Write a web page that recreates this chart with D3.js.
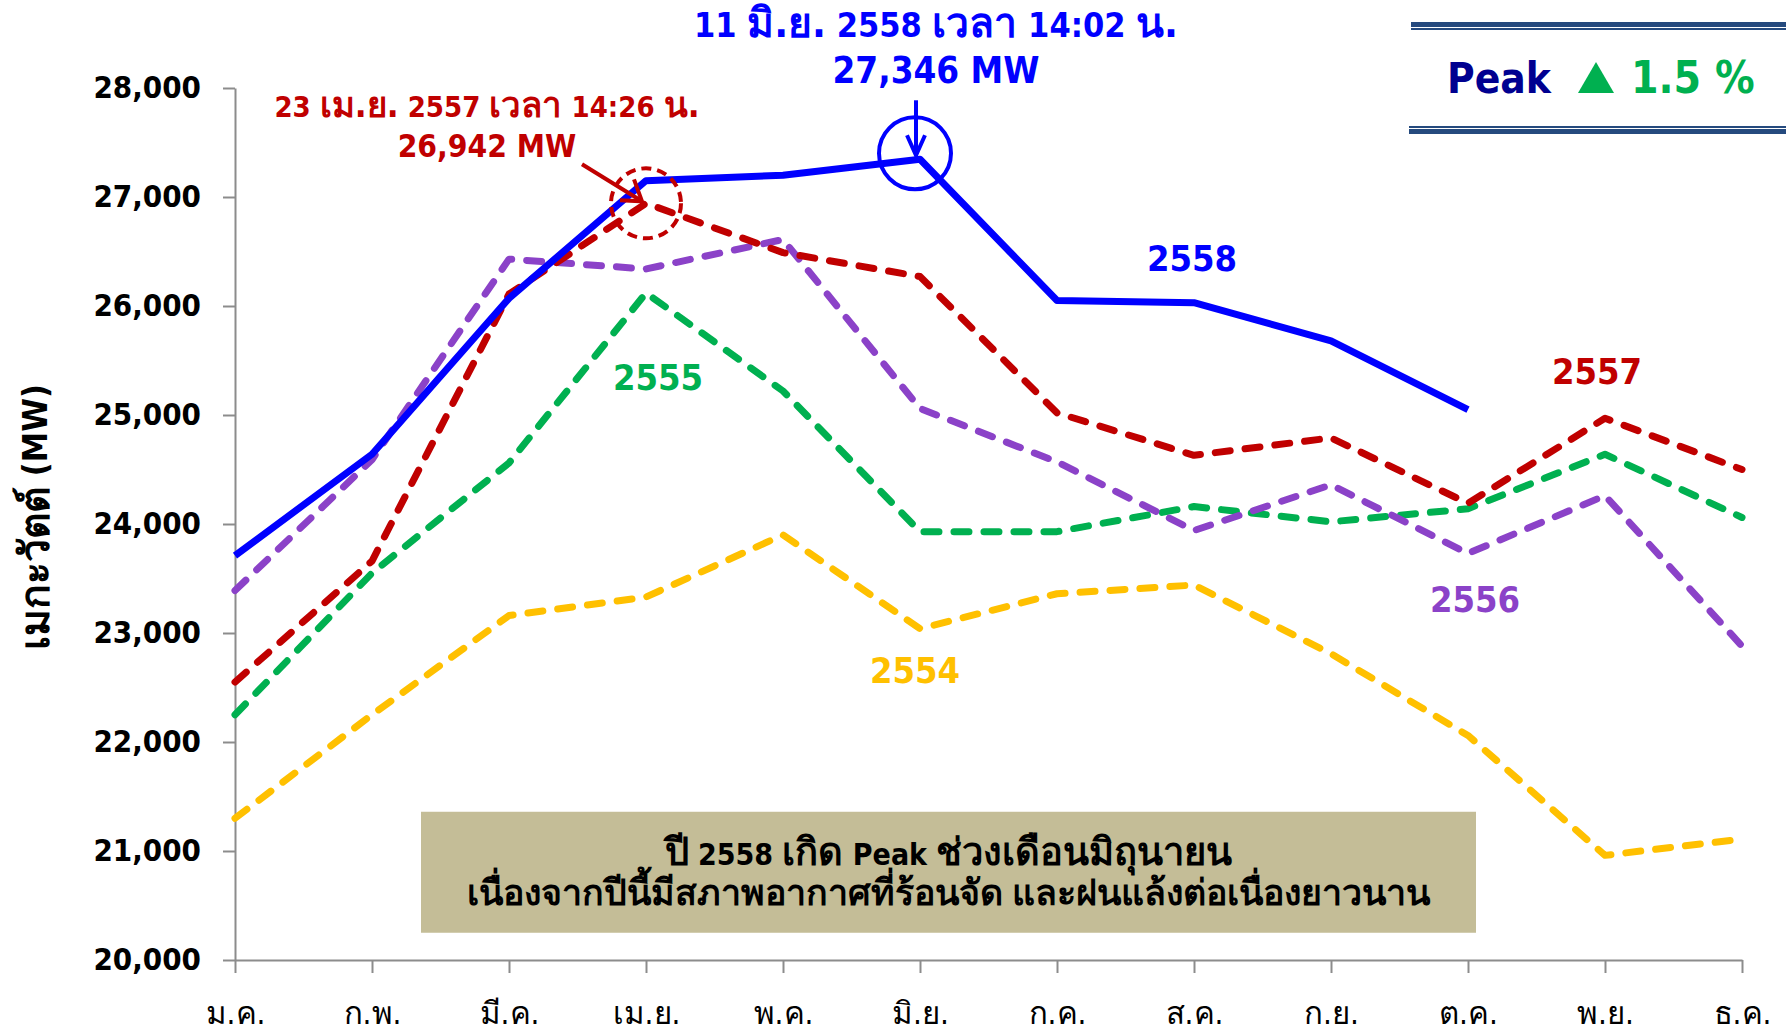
<!DOCTYPE html>
<html>
<head>
<meta charset="utf-8">
<script src="https://cdn.jsdelivr.net/npm/d3@7"></script>
<style>
  body { margin: 0; background: #fff; }
  svg { display: block; }
  text { font-family: Tahoma, "DejaVu Sans Condensed", "DejaVu Sans", "Noto Sans", sans-serif; font-stretch: condensed; }
</style>
</head>
<body>
<div id="chart"></div>
<script>
// months (Thai abbreviations)
const months = ["ม.ค.", "ก.พ.", "มี.ค.", "เม.ย.", "พ.ค.", "มิ.ย.", "ก.ค.", "ส.ค.", "ก.ย.", "ต.ค.", "พ.ย.", "ธ.ค."];

// monthly peak demand (MW)
const y2554 = [21300, 22250, 23160, 23330, 23900, 23040, 23360, 23440, 22810, 22060, 20960, 21110];
const y2555 = [22250, 23550, 24560, 26120, 25220, 23930, 23930, 24160, 24020, 24140, 24640, 24060];
const y2556 = [23390, 24590, 26430, 26340, 26610, 25060, 24570, 23940, 24360, 23730, 24260, 22880];
const y2557 = [22550, 23660, 26110, 26942, 26490, 26270, 25020, 24630, 24790, 24190, 24970, 24500];
const y2558 = [23710, 24640, 26070, 27150, 27200, 27346, 26050, 26030, 25680, 25050];

const yTicks = [20000, 21000, 22000, 23000, 24000, 25000, 26000, 27000, 28000];

const seriesNames = ["2554", "2555", "2556", "2557", "2558"];
const seriesValues = [y2554, y2555, y2556, y2557, y2558];
const seriesColors = ["#FFC000", "#00B050", "#8B42C8", "#C00000", "#0000FF"];

const W = 1786, H = 1034;

// write a string into a text element, Thai runs scaled up (the fallback Thai glyphs are small)
function mixed(sel, str, size, thaiScale) {
    const k = thaiScale || 1.2;
    const parts = str.split(/([\u0E00-\u0E7F][\u0E00-\u0E7F.]*)/).filter(s => s.length);
    parts.forEach(s => {
        const thai = /[\u0E00-\u0E7F]/.test(s);
        sel.append("tspan")
            .style("font-size", (thai ? size * k : size) + "px")
            .text(s);
    });
}

const svg = d3.select("#chart").append("svg")
    .attr("width", W)
    .attr("height", H);

// scales
const x = d3.scalePoint().domain(months).range([235, 1742]);
const y = d3.scaleLinear().domain([20000, 28000]).range([960, 88]);

// y axis
const yAxis = svg.append("g")
    .attr("transform", "translate(" + x(months[0]) + ",0)")
    .call(d3.axisLeft(y).tickValues(yTicks).tickFormat(d3.format(",")).tickSize(12).tickSizeOuter(0).tickPadding(22));
yAxis.selectAll("text")
    .style("font-size", "31px")
    .style("font-weight", "bold")
    .attr("fill", "#000");

// x axis
const xAxis = svg.append("g")
    .attr("transform", "translate(0," + y(20000) + ")")
    .call(d3.axisBottom(x).tickSize(13).tickSizeOuter(0));
xAxis.selectAll("text")
    .text("")
    .attr("fill", "#000")
    .attr("y", 57)
    .each(function(d) { mixed(d3.select(this), d, 26); });

svg.selectAll(".domain, .tick line").attr("stroke", "#8c8c8c").attr("stroke-width", 2);

// y axis title
const yTitle = svg.append("text")
    .attr("transform", "translate(35," + (y(24000) - 7) + ") rotate(-90)")
    .attr("text-anchor", "middle")
    .attr("dominant-baseline", "central")
    .style("font-weight", "bold");
mixed(yTitle, "เมกะวัตต์ (MW)", 34);

// note box
const boxX0 = x(months[1]) + 49, boxX1 = x(months[9]) + 8;
svg.append("rect")
    .attr("x", boxX0).attr("y", y(21360))
    .attr("width", boxX1 - boxX0).attr("height", y(20250) - y(21360))
    .attr("fill", "#C4BD97");
const note1 = svg.append("text")
    .attr("x", (boxX0 + boxX1) / 2).attr("y", 865)
    .attr("text-anchor", "middle")
    .style("font-weight", "bold")
    .attr("fill", "#000");
mixed(note1, "ปี 2558 เกิด Peak ช่วงเดือนมิถุนายน", 30, 1.27);
const note2 = svg.append("text")
    .attr("x", (boxX0 + boxX1) / 2).attr("y", 905)
    .attr("text-anchor", "middle")
    .style("font-weight", "bold")
    .attr("fill", "#000");
mixed(note2, "เนื่องจากปีนี้มีสภาพอากาศที่ร้อนจัด และฝนแล้งต่อเนื่องยาวนาน", 29.8);

// lines
const line = d3.line()
    .x((d, i) => x(months[i]))
    .y(d => y(d));

seriesValues.forEach((vals, k) => {
    const solid = seriesNames[k] === "2558";
    svg.append("path")
        .datum(vals)
        .attr("d", line)
        .attr("fill", "none")
        .attr("stroke", seriesColors[k])
        .attr("stroke-width", 7)
        .attr("stroke-linejoin", "round")
        .attr("stroke-linecap", solid ? "butt" : "round")
        .attr("stroke-dasharray", solid ? null : "15,15");
});

// series labels
const labelPos = [
    { name: "2554", cx: 915, cy: 670 },
    { name: "2555", cx: 658, cy: 377 },
    { name: "2556", cx: 1475, cy: 599 },
    { name: "2557", cx: 1597, cy: 371 },
    { name: "2558", cx: 1192, cy: 258 }
];
labelPos.forEach(p => {
    svg.append("text")
        .attr("x", p.cx).attr("y", p.cy)
        .attr("text-anchor", "middle")
        .attr("dominant-baseline", "central")
        .style("font-size", "36px")
        .style("font-weight", "bold")
        .attr("fill", seriesColors[seriesNames.indexOf(p.name)])
        .text(p.name);
});

// peak 2557 marker
const p57x = x(months[3]), p57y = y(y2557[3]);
svg.append("circle")
    .attr("cx", p57x).attr("cy", p57y).attr("r", 35)
    .attr("fill", "none").attr("stroke", "#C00000")
    .attr("stroke-width", 4).attr("stroke-dasharray", "10,6");
svg.append("line")
    .attr("x1", p57x - 64).attr("y1", p57y - 39)
    .attr("x2", p57x - 4).attr("y2", p57y - 2)
    .attr("stroke", "#C00000").attr("stroke-width", 4);
svg.append("path")
    .attr("d", "M" + (p57x - 26) + "," + (p57y - 3) + " L" + (p57x - 4) + "," + (p57y - 2) + " L" + (p57x - 12) + "," + (p57y - 24))
    .attr("fill", "none").attr("stroke", "#C00000").attr("stroke-width", 4);
const t57a = svg.append("text")
    .attr("x", 487).attr("y", 117)
    .attr("text-anchor", "middle")
    .style("font-weight", "bold")
    .attr("fill", "#C00000");
mixed(t57a, "23 เม.ย. 2557 เวลา 14:26 น.", 29);
const t57b = svg.append("text")
    .attr("x", 487).attr("y", 157)
    .attr("text-anchor", "middle")
    .style("font-weight", "bold")
    .attr("fill", "#C00000");
mixed(t57b, "26,942 MW", 31.5);

// peak 2558 marker
const p58x = x(months[5]), p58y = y(y2558[5]);
svg.append("circle")
    .attr("cx", p58x - 5).attr("cy", p58y - 6).attr("r", 36)
    .attr("fill", "none").attr("stroke", "#0000FF").attr("stroke-width", 4);
svg.append("line")
    .attr("x1", p58x - 4).attr("y1", p58y - 59)
    .attr("x2", p58x - 4).attr("y2", p58y - 4)
    .attr("stroke", "#0000FF").attr("stroke-width", 4);
svg.append("path")
    .attr("d", "M" + (p58x - 13) + "," + (p58y - 24) + " L" + (p58x - 4) + "," + (p58y - 4) + " L" + (p58x + 5) + "," + (p58y - 24))
    .attr("fill", "none").attr("stroke", "#0000FF").attr("stroke-width", 4);
const t58a = svg.append("text")
    .attr("x", 936).attr("y", 37)
    .attr("text-anchor", "middle")
    .style("font-weight", "bold")
    .attr("fill", "#0000FF");
mixed(t58a, "11 มิ.ย. 2558 เวลา 14:02 น.", 34);
const t58b = svg.append("text")
    .attr("x", 936).attr("y", 83)
    .attr("text-anchor", "middle")
    .style("font-weight", "bold")
    .attr("fill", "#0000FF");
mixed(t58b, "27,346 MW", 36.5);

// peak growth box
const pk = svg.append("g");
pk.append("rect").attr("x", 1411).attr("y", 22).attr("width", W - 1411).attr("height", 5).attr("fill", "#254A7E");
pk.append("rect").attr("x", 1411).attr("y", 28).attr("width", W - 1411).attr("height", 2).attr("fill", "#254A7E");
pk.append("rect").attr("x", 1409).attr("y", 126).attr("width", W - 1409).attr("height", 2).attr("fill", "#254A7E");
pk.append("rect").attr("x", 1409).attr("y", 129).attr("width", W - 1409).attr("height", 5).attr("fill", "#254A7E");
pk.append("text")
    .attr("x", 1447).attr("y", 93)
    .style("font-size", "42px").style("font-weight", "bold")
    .attr("fill", "#000090")
    .text("Peak");
pk.append("path")
    .attr("d", "M1578,93 L1596,62 L1614,93 Z")
    .attr("fill", "#00B050");
pk.append("text")
    .attr("x", 1631).attr("y", 93)
    .style("font-size", "44px").style("font-weight", "bold")
    .attr("fill", "#00B050")
    .text("1.5 %");
</script>
</body>
</html>
